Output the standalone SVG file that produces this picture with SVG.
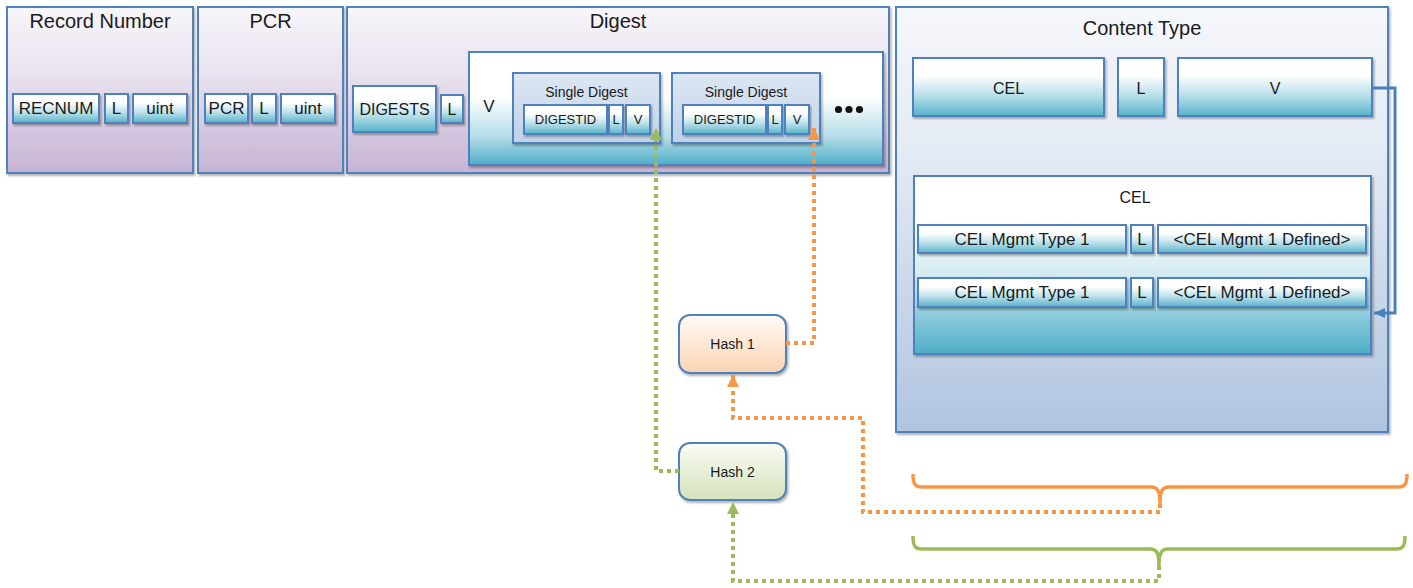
<svg xmlns="http://www.w3.org/2000/svg" width="1413" height="588" viewBox="0 0 1413 588">
<defs>
<linearGradient id="gPurple" x1="0" y1="0" x2="0" y2="1"><stop offset="0" stop-color="#f7f6fa"/><stop offset="0.4" stop-color="#e9e2ef"/><stop offset="1" stop-color="#c6b3d4"/></linearGradient>
<linearGradient id="gBlue" x1="0" y1="0" x2="0" y2="1"><stop offset="0" stop-color="#f5f7fb"/><stop offset="0.35" stop-color="#e4eaf3"/><stop offset="1" stop-color="#b0c4e0"/></linearGradient>
<linearGradient id="gTeal" x1="0" y1="0" x2="0" y2="1"><stop offset="0" stop-color="#ffffff"/><stop offset="0.3" stop-color="#ffffff"/><stop offset="0.65" stop-color="#b7dfe9"/><stop offset="1" stop-color="#57b2ca"/></linearGradient>
<linearGradient id="gTealBig" x1="0" y1="0" x2="0" y2="1"><stop offset="0" stop-color="#ffffff"/><stop offset="0.4" stop-color="#ffffff"/><stop offset="0.75" stop-color="#b5dde8"/><stop offset="1" stop-color="#4eadc7"/></linearGradient>
<linearGradient id="gCel" x1="0" y1="0" x2="0" y2="1"><stop offset="0" stop-color="#ffffff"/><stop offset="0.25" stop-color="#ffffff"/><stop offset="0.55" stop-color="#d3ebf2"/><stop offset="1" stop-color="#4eadc7"/></linearGradient>
<linearGradient id="gSingle" x1="0" y1="0" x2="0" y2="1"><stop offset="0" stop-color="#dde7f3"/><stop offset="1" stop-color="#bfd1e8"/></linearGradient>
<linearGradient id="gOrange" x1="0" y1="0" x2="0" y2="1"><stop offset="0" stop-color="#fffaf6"/><stop offset="1" stop-color="#fbd3b2"/></linearGradient>
<linearGradient id="gGreen" x1="0" y1="0" x2="0" y2="1"><stop offset="0" stop-color="#fafcf6"/><stop offset="1" stop-color="#d6e3bb"/></linearGradient>
<filter id="sh" x="-10%" y="-10%" width="120%" height="130%"><feDropShadow dx="1.5" dy="2" stdDeviation="1.2" flood-color="#000" flood-opacity="0.3"/></filter>
<marker id="aBlue" markerUnits="userSpaceOnUse" markerWidth="12" markerHeight="12" refX="11" refY="6" orient="auto"><path d="M0,1 L11,6 L0,11 Z" fill="#4a7ebb"/></marker>
<marker id="aOrange" markerUnits="userSpaceOnUse" markerWidth="14" markerHeight="14" refX="12" refY="7" orient="auto"><path d="M0,1 L12,7 L0,13 Z" fill="#f79646"/></marker>
<marker id="aGreen" markerUnits="userSpaceOnUse" markerWidth="14" markerHeight="14" refX="12" refY="7" orient="auto"><path d="M0,1 L12,7 L0,13 Z" fill="#9bbb59"/></marker>
</defs>
<style>
.box{stroke:#4f81bd;stroke-width:2;filter:url(#sh)}
.outerP{fill:url(#gPurple)}
.outerB{fill:url(#gBlue)}
.teal{fill:url(#gTeal)}
.tealBig{fill:url(#gTealBig)}
.cel{fill:url(#gCel)}
.single{fill:url(#gSingle)}
text{font-family:"Liberation Sans",Arial,sans-serif;fill:#1a1a1a;text-anchor:middle;dominant-baseline:central}
.t20{font-size:20px}
.t17{font-size:17px}
.t16{font-size:16px}
.t14{font-size:14px}
.t13{font-size:13px}
.dot{fill:none;stroke-width:4;stroke-dasharray:4 4}
.brace{fill:none;stroke-width:3.5;stroke-linejoin:round}
</style>

<g id="record-number">
<rect class="box outerP" x="7" y="7" width="186" height="166"/>
<text class="t20" x="100" y="21">Record Number</text>
<rect class="box teal" x="13" y="94" width="86" height="29"/>
<text class="t17" x="56" y="108.5">RECNUM</text>
<rect class="box teal" x="105" y="94" width="23" height="29"/>
<text class="t17" x="116.5" y="108.5">L</text>
<rect class="box teal" x="133" y="94" width="54" height="29"/>
<text class="t17" x="160" y="108.5">uint</text>
</g>

<g id="pcr">
<rect class="box outerP" x="198" y="7" width="145" height="166"/>
<text class="t20" x="270.5" y="21">PCR</text>
<rect class="box teal" x="205" y="94" width="43" height="29"/>
<text class="t17" x="226.5" y="108.5">PCR</text>
<rect class="box teal" x="252" y="94" width="24" height="29"/>
<text class="t17" x="264" y="108.5">L</text>
<rect class="box teal" x="281" y="94" width="54" height="29"/>
<text class="t17" x="308" y="108.5">uint</text>
</g>

<g id="digest">
<rect class="box outerP" x="347" y="7" width="542" height="166"/>
<text class="t20" x="618" y="21">Digest</text>
<rect class="box teal" x="353" y="86" width="83" height="46"/>
<text class="t16" x="394.5" y="109">DIGESTS</text>
<rect class="box teal" x="441" y="95" width="22" height="28"/>
<text class="t16" x="452" y="109">L</text>
<rect class="box tealBig" x="469" y="52" width="414" height="113"/>
<text class="t17" x="489" y="106">V</text>
</g>

<g id="single-digest-1">
<rect class="box single" x="513" y="73" width="147" height="70"/>
<text class="t14" x="586.5" y="92">Single Digest</text>
<rect class="box teal" x="524" y="105" width="83" height="29"/>
<text class="t13" x="565.5" y="119.5">DIGESTID</text>
<rect class="box teal" x="609" y="105" width="14" height="29"/>
<text class="t13" x="616" y="119.5">L</text>
<rect class="box teal" x="626" y="105" width="24" height="29"/>
<text class="t13" x="638" y="119.5">V</text>
</g>

<g id="single-digest-2">
<rect class="box single" x="672" y="73" width="148" height="70"/>
<text class="t14" x="746" y="92">Single Digest</text>
<rect class="box teal" x="683" y="105" width="83" height="29"/>
<text class="t13" x="724.5" y="119.5">DIGESTID</text>
<rect class="box teal" x="768" y="105" width="14" height="29"/>
<text class="t13" x="775" y="119.5">L</text>
<rect class="box teal" x="785" y="105" width="24" height="29"/>
<text class="t13" x="797" y="119.5">V</text>
</g>

<g id="ellipsis">
<circle cx="838.5" cy="109.5" r="3.6" fill="#111"/>
<circle cx="849" cy="109.5" r="3.6" fill="#111"/>
<circle cx="859.5" cy="109.5" r="3.6" fill="#111"/>
</g>

<g id="content-type">
<rect class="box outerB" x="896" y="7" width="492" height="425"/>
<text class="t20" x="1142" y="28">Content Type</text>
<rect class="box teal" x="913" y="58" width="191" height="58"/>
<text class="t16" x="1008.5" y="88">CEL</text>
<rect class="box teal" x="1118" y="58" width="46" height="58"/>
<text class="t16" x="1141" y="88">L</text>
<rect class="box teal" x="1178" y="58" width="194" height="58"/>
<text class="t16" x="1275" y="88">V</text>
</g>

<g id="cel">
<rect class="box cel" x="914" y="176" width="457" height="178"/>
<text class="t16" x="1135" y="197">CEL</text>
<rect class="box teal" x="918" y="225" width="208" height="28"/>
<text class="t17" x="1022" y="239">CEL Mgmt Type 1</text>
<rect class="box teal" x="1131" y="225" width="22" height="28"/>
<text class="t17" x="1142" y="239">L</text>
<rect class="box teal" x="1158" y="225" width="208" height="28"/>
<text class="t17" x="1262" y="239">&lt;CEL Mgmt 1 Defined&gt;</text>
<rect class="box teal" x="918" y="278" width="208" height="29"/>
<text class="t17" x="1022" y="292.5">CEL Mgmt Type 1</text>
<rect class="box teal" x="1131" y="278" width="22" height="29"/>
<text class="t17" x="1142" y="292.5">L</text>
<rect class="box teal" x="1158" y="278" width="208" height="29"/>
<text class="t17" x="1262" y="292.5">&lt;CEL Mgmt 1 Defined&gt;</text>
</g>

<g id="hash-1">
<rect class="box" fill="url(#gOrange)" x="679" y="315" width="107" height="58" rx="11"/>
<text class="t14" x="732.5" y="344">Hash 1</text>
</g>

<g id="hash-2">
<rect class="box" fill="url(#gGreen)" x="679" y="443" width="107" height="57" rx="11"/>
<text class="t14" x="732.5" y="471.5">Hash 2</text>
</g>

<g id="braces">
<path class="brace" stroke="#f79646" d="M913,474 C913,484 915,487 922,487 H1151 C1157,487 1160,490 1160,503 C1160,490 1163,487 1169,487 H1398 C1405,487 1407,484 1407,474"/>
<path class="brace" stroke="#9bbb59" d="M913,536 C913,546 915,549 922,549 H1150 C1156,549 1159,552 1159,565 C1159,552 1162,549 1168,549 H1396 C1403,549 1405,546 1405,536"/>
</g>

<g id="connectors">
<path d="M1372,88 H1395 V313 H1374" fill="none" stroke="#4a7ebb" stroke-width="3" marker-end="url(#aBlue)"/>
<path class="dot" stroke="#f79646" d="M786,343 H814 V128" marker-end="url(#aOrange)"/>
<path class="dot" stroke="#9bbb59" d="M679,471 H656 V128" marker-end="url(#aGreen)"/>
<path class="dot" stroke="#f79646" d="M1160,504 V512 H863 V418 H733 V375" marker-end="url(#aOrange)"/>
<path class="dot" stroke="#9bbb59" d="M1159,566 V581 H733 V502" marker-end="url(#aGreen)"/>
</g>
</svg>
